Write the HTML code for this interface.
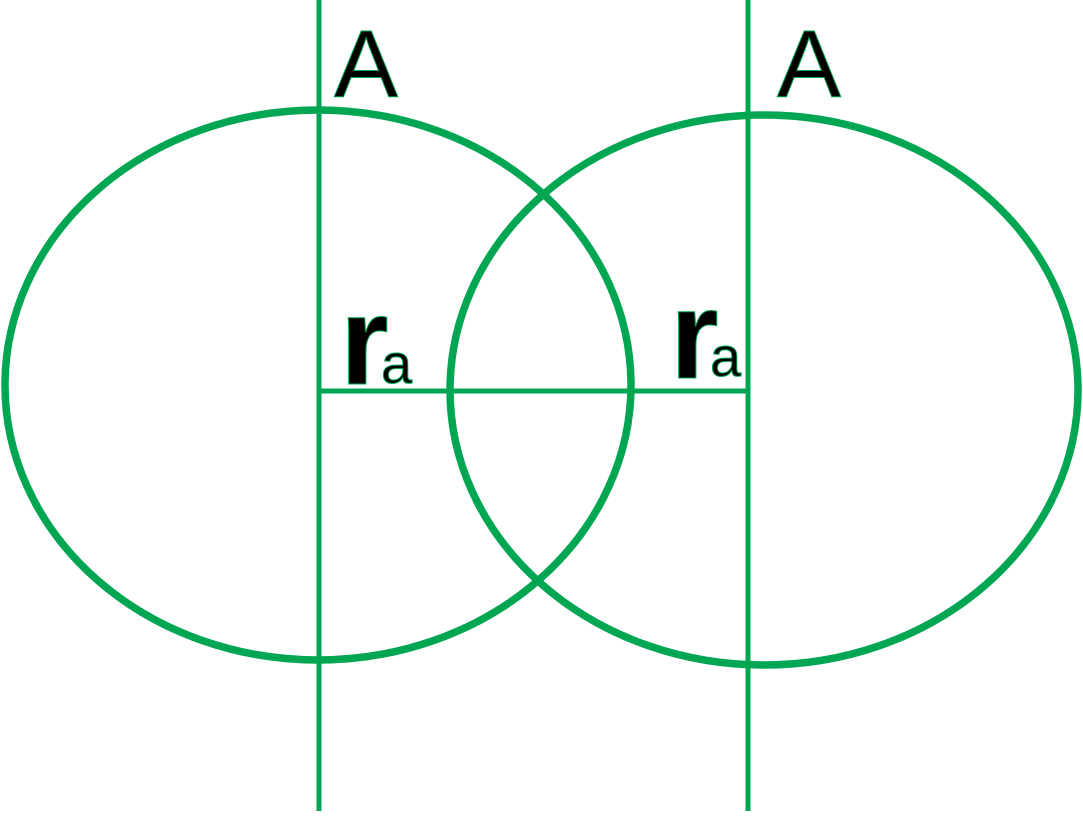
<!DOCTYPE html>
<html><head><style>html,body{margin:0;padding:0;background:#fff}</style></head>
<body>
<svg width="1083" height="811" viewBox="0 0 1083 811" xmlns="http://www.w3.org/2000/svg">
<g fill="none" stroke="#00a651">
<ellipse cx="318" cy="385" rx="313" ry="275" stroke-width="7.5"/>
<ellipse cx="764" cy="390" rx="314" ry="275" stroke-width="7.5"/>
<line x1="319" y1="0" x2="319" y2="811" stroke-width="5"/>
<line x1="748" y1="0" x2="748" y2="811" stroke-width="5"/>
<line x1="319" y1="391" x2="748" y2="391" stroke-width="5"/>
</g>
<g font-family="Liberation Sans, sans-serif" fill="#000" stroke="#00a651" stroke-width="1">
<text x="334" y="97" font-size="96">A</text>
<text x="777" y="97" font-size="96">A</text>
<text x="340" y="384" font-size="125" font-weight="bold">r</text>
<text x="381" y="383" font-size="56">a</text>
<text x="670" y="378" font-size="125" font-weight="bold">r</text>
<text x="710" y="376" font-size="56">a</text>
</g>
</svg>
</body></html>
